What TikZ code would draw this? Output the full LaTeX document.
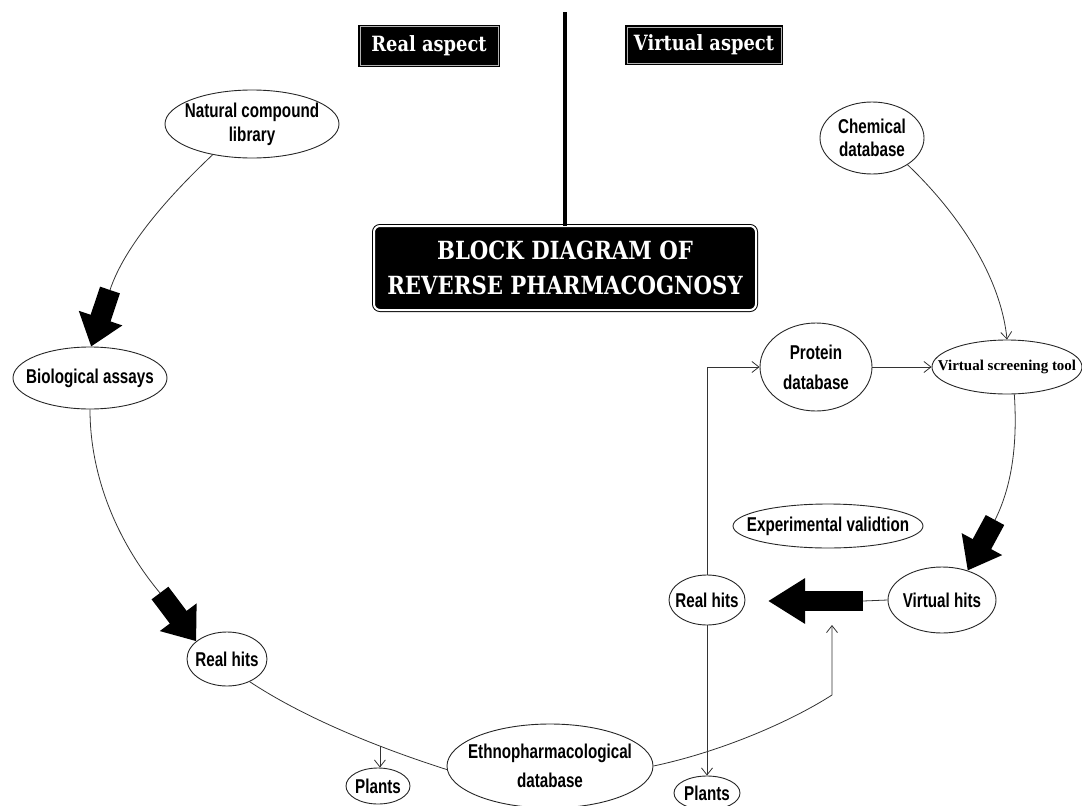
\documentclass[tikz,border=0pt]{standalone}
\usepackage{fontspec}
\usetikzlibrary{shapes.geometric,arrows.meta}
\newfontfamily\nf{Liberation Sans}[FakeStretch=0.76]
\newfontfamily\ttl{DejaVu Serif}[FakeStretch=0.85]
\newfontfamily\tms{Liberation Serif}
\tikzset{
  ell/.style={ellipse, draw=black!85, line width=0.9pt, inner sep=0pt},
  lbl/.style={align=center, inner sep=0pt, font=\nf\bfseries\fontsize{20}{23}\selectfont},
  conn/.style={draw=black!80, line width=0.8pt},
  tip/.style={-{Straight Barb[length=7pt,width=11pt]}},
  bigarr/.style={line width=21pt, black, -{Triangle[length=30pt,width=44pt]}},
  aspect/.style={draw=black, double=gray!60, double distance=0.8pt, line width=1.2pt,
    fill=black, text=white, inner sep=0pt, font=\ttl\bfseries\fontsize{21}{24}\selectfont},
  blockbox/.style={draw=black, double=white, double distance=2pt, line width=1pt,
    fill=black, rounded corners=6pt, text=white, align=center, inner sep=0pt,
    font=\ttl\bfseries\fontsize{25}{35}\selectfont},
}
\begin{document}
\begin{tikzpicture}[x=1pt,y=-1pt]
\useasboundingbox (0,0) rectangle (1082,806);
% title boxes
\node[aspect, minimum width=138pt, minimum height=39pt] (ra) at (429,46) {Real aspect};
\node[aspect, minimum width=154pt, minimum height=36pt] (va) at (704,45) {Virtual aspect};
\node[blockbox, minimum width=382pt, minimum height=84pt] (blk) at (565,268) {BLOCK DIAGRAM OF\\REVERSE PHARMACOGNOSY};
\coordinate (vt) at (565,12);
\draw[line width=4pt] (vt) -- (blk.north);
% ellipses
\node[ell, minimum width=174pt, minimum height=68pt,
  label={[lbl, font=\nf\bfseries\fontsize{20}{24}\selectfont]center:Natural compound\\library}] (nat) at (252,124) {};
\node[ell, minimum width=154pt, minimum height=62pt, label={[lbl]center:Biological assays}] (bio) at (90,378) {};
\node[ell, minimum width=80pt, minimum height=54pt, label={[lbl]center:Real hits}] (rh1) at (227,659) {};
\node[ell, minimum width=64pt, minimum height=36pt, label={[lbl]center:Plants}] (pl1) at (378,786) {};
\node[ell, minimum width=206pt, minimum height=84pt,
  label={[lbl, font=\nf\bfseries\fontsize{20}{29}\selectfont]center:Ethnopharmacological\\database}] (eth) at (550,766) {};
\node[ell, minimum width=66pt, minimum height=34pt, label={[lbl]center:Plants}] (pl2) at (707,793) {};
\node[ell, minimum width=76pt, minimum height=50pt, label={[lbl]center:Real hits}] (rh2) at (707,600) {};
\node[ell, minimum width=108pt, minimum height=66pt, label={[lbl]center:Virtual hits}] (vh) at (942,600) {};
\node[ell, minimum width=190pt, minimum height=44pt, label={[lbl]center:Experimental validtion}] (exp) at (828,526) {};
\node[ell, minimum width=112pt, minimum height=88pt,
  label={[lbl, font=\nf\bfseries\fontsize{20}{30}\selectfont]center:Protein\\database}] (prot) at (816,367) {};
\node[ell, minimum width=150pt, minimum height=54pt,
  label={[lbl, font=\tms\bfseries\fontsize{15}{18}\selectfont]center:Virtual screening tool}] (vst) at (1007,367) {};
\node[ell, minimum width=104pt, minimum height=72pt,
  label={[lbl, font=\nf\bfseries\fontsize{20}{23}\selectfont]center:Chemical\\database}] (chem) at (872,138) {};
% free ends
\coordinate (c1) at (110,290);
\coordinate (c2) at (160,593);
\coordinate (c3) at (995,520);
\coordinate (c4) at (832,695);
\coordinate (c5) at (832,625);
\coordinate (la1) at (863,601);
\coordinate (la2) at (768,601);
% left side
\draw[conn] (nat.218) .. controls (170,195) and (125,245) .. (c1);
\draw[bigarr] (c1) -- (bio.88);
\draw[conn] (bio.south) .. controls (90,480) and (120,545) .. (c2);
\draw[bigarr] (c2) -- (rh1.150);
\draw[conn] (rh1.-45) .. controls (300,715) and (370,745) .. (eth.182) coordinate[pos=0.7] (br);
\draw[conn,tip] (br) -- (br |- pl1.north);
\draw[conn,tip] (eth.east) .. controls (720,752) and (790,722) .. (c4) -- (c5);
% right side
\draw[conn,tip] (chem.-37) .. controls (950,205) and (1000,270) .. (vst.north);
\draw[conn,tip] (prot.east) -- (vst.west);
\draw[conn,tip] (rh2.north) |- (prot.west);
\draw[conn,tip] (rh2.south) -- (pl2.north);
\draw[conn] (vst.-75) .. controls (1018,450) and (1010,490) .. (c3);
\draw[bigarr] (c3) -- (vh.49);
\draw[conn] (vh.west) -- (la1);
\draw[line width=20pt, black, -{Triangle[length=37pt,width=43pt]}] (la1) -- (la2);
\end{tikzpicture}
\end{document}
